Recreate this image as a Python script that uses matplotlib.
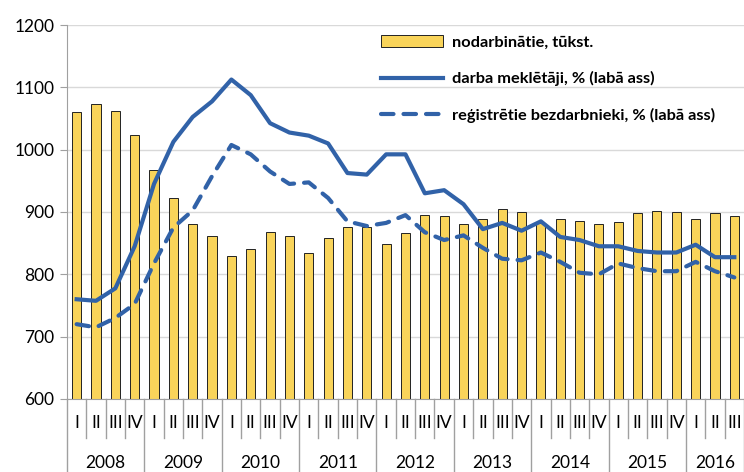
import matplotlib
matplotlib.use("Agg")
import matplotlib.pyplot as plt
import numpy as np

plt.rcParams['font.family'] = ['Lato', 'DejaVu Sans']

years = ['2008', '2009', '2010', '2011', '2012', '2013', '2014', '2015', '2016']
quarters = ['I', 'II', 'III', 'IV'] * 8 + ['I', 'II', 'III']

# nodarbinātie, tūkst.
employed = [1060, 1073, 1062, 1024,
            968, 923, 880, 862,
            830, 841, 868, 862,
            835, 859, 876, 876,
            848, 866, 895, 893,
            880, 889, 905, 900,
            882, 889, 886, 881,
            884, 898, 901, 900,
            889, 898, 894]

# darba meklētāji, %
job_seekers = [6.4, 6.3, 7.1, 9.8,
               13.8, 16.5, 18.1, 19.1,
               20.5, 19.5, 17.7, 17.1,
               16.9, 16.4, 14.5, 14.4,
               15.7, 15.7, 13.2, 13.4,
               12.5, 10.9, 11.3, 10.8,
               11.4, 10.4, 10.2, 9.8,
               9.8, 9.5, 9.4, 9.4,
               9.9, 9.1, 9.1]

# reģistrētie bezdarbnieki, %
registered = [4.8, 4.6, 5.2, 6.1,
              8.7, 11.0, 12.1, 14.3,
              16.3, 15.7, 14.6, 13.8,
              13.9, 12.9, 11.4, 11.1,
              11.3, 11.8, 10.7, 10.2,
              10.5, 9.7, 9.0, 8.9,
              9.4, 8.8, 8.1, 8.0,
              8.7, 8.4, 8.2, 8.2,
              8.8, 8.2, 7.8]

blue = '#3162A8'
x = np.arange(len(employed))

fig = plt.figure(figsize=(7.44, 4.72), dpi=100)
ax = fig.add_axes([0.09, 0.1547, 0.91, 0.7923])

bars = ax.bar(x, employed, width=0.47, color='#F9D45A', edgecolor='#222222',
              linewidth=0.7, zorder=2, label='nodarbinātie, tūkst.')
ax.set_ylim(600, 1200)
ax.set_xlim(-0.5, len(x) - 0.5)
ax.set_yticks(range(600, 1201, 100))
ax.tick_params(axis='y', labelsize=12.5, length=5, color='#A0A0A0', pad=4)
ax.grid(axis='y', color='#D9D9D9', linewidth=1, zorder=0)
ax.set_axisbelow(True)
for s in ['top', 'right']:
    ax.spines[s].set_visible(False)
ax.spines['left'].set_color('#A0A0A0')
ax.spines['bottom'].set_color('#A0A0A0')
ax.set_xticks([])

# labā ass (nav parādīta)
ax2 = ax.twinx()
ax2.set_ylim(0, 24)
ax2.set_yticks([])
for s in ax2.spines.values():
    s.set_visible(False)
l1, = ax2.plot(x, job_seekers, color=blue, linewidth=3, solid_joinstyle='round',
               label='darba meklētāji, % (labā ass)')
l2, = ax2.plot(x, registered, color=blue, linewidth=3, linestyle=(0, (3.0, 2.4)),
               dash_capstyle='round', label='reģistrētie bezdarbnieki, % (labā ass)')

leg = ax.legend([bars, l1, l2], [bars.get_label(), l1.get_label(), l2.get_label()],
                loc='upper left', bbox_to_anchor=(0.464, 0.972), frameon=False,
                prop={'weight': 'bold', 'size': 11.8}, handlelength=3.8,
                labelspacing=1.3, handletextpad=0.5, borderpad=0, borderaxespad=0)

# divu līmeņu kategoriju ass
trans = ax.get_xaxis_transform()
for i, q in enumerate(quarters):
    ax.text(i, -0.065, q, transform=trans, ha='center', va='center', fontsize=12.5)
for i in range(len(x) + 1):
    b = i - 0.5
    if i % 4 == 0 or i == len(x):
        ax.plot([b, b], [0, -0.2], transform=trans, color='#A0A0A0', lw=1, clip_on=False)
    else:
        ax.plot([b, b], [0, -0.105], transform=trans, color='#A0A0A0', lw=1, clip_on=False)
for k, yr in enumerate(years):
    start = k * 4 - 0.5
    end = min(k * 4 + 3.5, len(x) - 0.5)
    ax.text((start + end) / 2, -0.172, yr, transform=trans, ha='center', va='center', fontsize=12.5)

fig.savefig('out.png', dpi=100)
